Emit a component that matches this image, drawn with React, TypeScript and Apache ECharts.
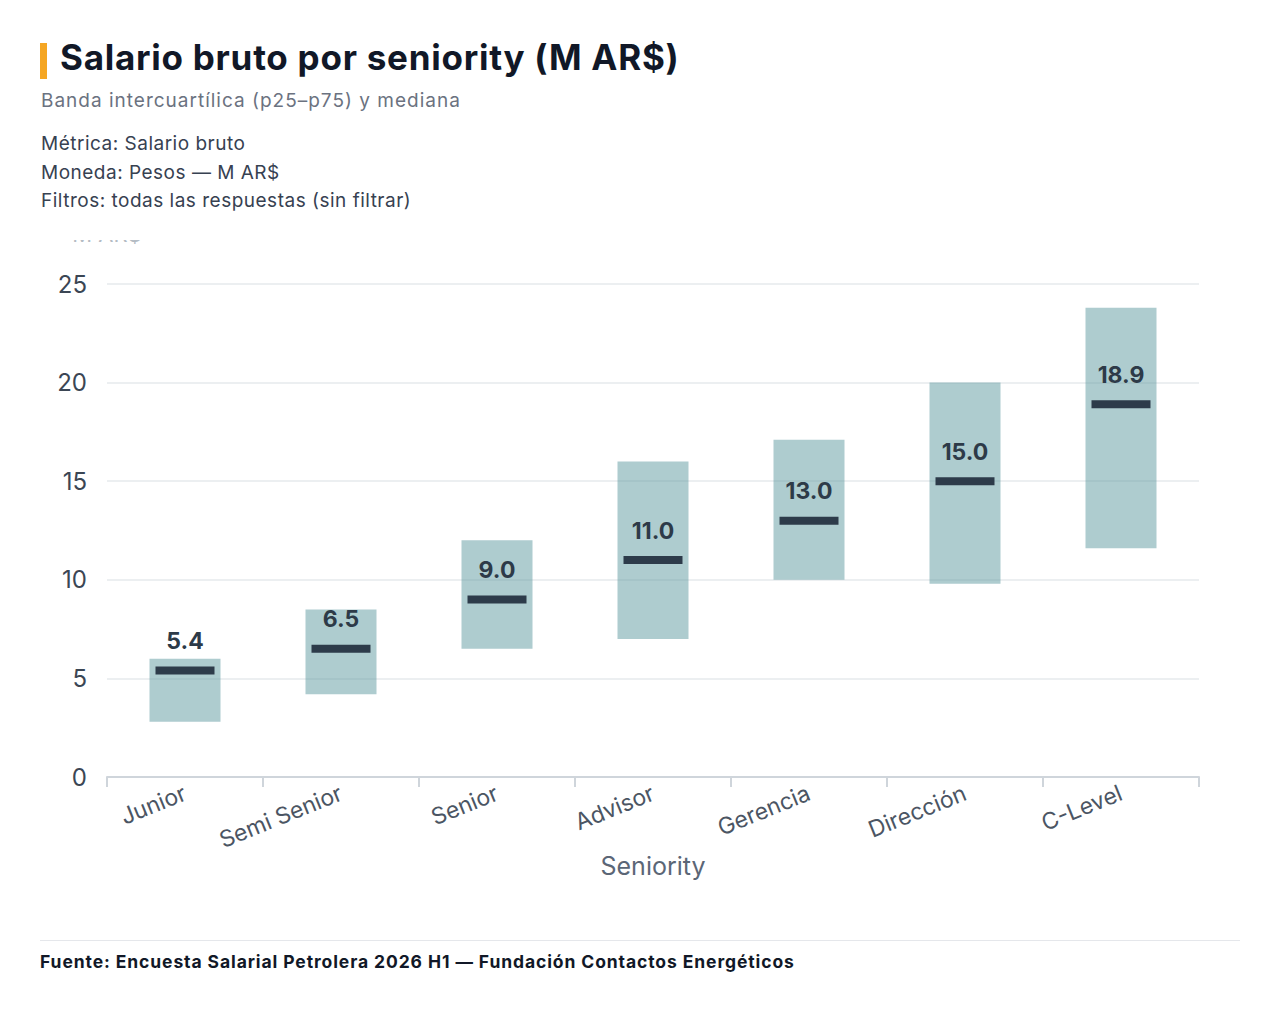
import React, { useEffect, useRef } from "react";
import * as echarts from "echarts";

const categories = ["Junior", "Semi Senior", "Senior", "Advisor", "Gerencia", "Dirección", "C-Level"];
const p25 = [2.8, 4.2, 6.5, 7.0, 10.0, 9.8, 11.6];
const p75 = [6.0, 8.5, 12.0, 16.0, 17.1, 20.0, 23.8];
const median = [5.4, 6.5, 9.0, 11.0, 13.0, 15.0, 18.9];
const yTicks = { min: 0, max: 25, interval: 5 };

const FONT = "Inter, 'DejaVu Sans', sans-serif";

export default function App() {
  const ref = useRef<HTMLDivElement>(null);
  useEffect(() => {
    if (!ref.current) return;
    const chart = echarts.init(ref.current, null, { renderer: "svg" });
    const band = p75.map((v, i) => +(v - p25[i]).toFixed(2));
    chart.setOption({
      animation: false,
      textStyle: { fontFamily: FONT },
      grid: { left: 107, right: 81, top: 44, bottom: 143, containLabel: false, outerBoundsMode: "none" },
      xAxis: {
        type: "category",
        data: categories,
        boundaryGap: true,
        name: "Seniority",
        nameLocation: "middle",
        nameGap: 76,
        nameMoveOverlap: false,
        nameTextStyle: { fontSize: 25, color: "#5b6676", fontFamily: FONT },
        axisLine: { lineStyle: { color: "#cfd5db", width: 2 } },
        axisTick: { show: true, length: 10, lineStyle: { color: "#cfd5db", width: 2 } },
        axisLabel: { rotate: 22, fontSize: 23, color: "#4b5563", margin: 15, interval: 0, fontFamily: FONT },
      },
      yAxis: {
        type: "value",
        min: yTicks.min,
        max: yTicks.max,
        interval: yTicks.interval,
        name: "M AR$",
        nameLocation: "end",
        nameGap: 39,
        nameMoveOverlap: false,
        nameTextStyle: { fontSize: 22, color: "#b4bcc4", fontFamily: FONT },
        axisLine: { show: false },
        axisTick: { show: false },
        axisLabel: { fontSize: 24, color: "#3b4654", margin: 20, fontFamily: FONT },
        splitLine: { lineStyle: { color: "#eceff1", width: 2 } },
      },
      series: [
        {
          type: "bar",
          stack: "iqr",
          data: p25,
          barWidth: 71,
          itemStyle: { color: "transparent" },
          silent: true,
          z: 1,
        },
        {
          type: "bar",
          stack: "iqr",
          data: band,
          barWidth: 71,
          itemStyle: { color: "#5e99a0", opacity: 0.5 },
          z: 3,
        },
        {
          type: "scatter",
          data: median,
          symbol: "rect",
          symbolSize: [59, 8],
          itemStyle: { color: "#2d3b4a", opacity: 1 },
          z: 5,
          label: {
            show: true,
            position: "top",
            distance: 14,
            formatter: (p: any) => Number(p.value).toFixed(1),
            fontSize: 23,
            fontWeight: "bold",
            color: "#2d3a48",
            fontFamily: FONT,
          },
        },
      ],
    });
    return () => chart.dispose();
  }, []);

  return (
    <div style={{ position: "absolute", left: 0, top: 0, width: 1280, height: 1029, background: "#fff", fontFamily: FONT, overflow: "hidden" }}>
      <div style={{ position: "absolute", left: 40, top: 43, width: 7, height: 36, background: "#f5a623" }} />
      <div style={{ position: "absolute", left: 60, top: 36, fontSize: 35, fontWeight: 700, color: "#111827", lineHeight: "42px", letterSpacing: "0.75px", whiteSpace: "nowrap" }}>
        Salario bruto por seniority (M AR$)
      </div>
      <div style={{ position: "absolute", left: 41, top: 89, fontSize: 19, color: "#6b7280", lineHeight: "24px", letterSpacing: "1px", whiteSpace: "nowrap" }}>
        Banda intercuartílica (p25–p75) y mediana
      </div>
      <div style={{ position: "absolute", left: 41, top: 130, fontSize: 19, color: "#374151", lineHeight: "28.5px", letterSpacing: "0.5px", whiteSpace: "nowrap" }}>
        <div>Métrica: Salario bruto</div>
        <div>Moneda: Pesos — M AR$</div>
        <div>Filtros: todas las respuestas (sin filtrar)</div>
      </div>
      <div ref={ref} style={{ position: "absolute", left: 0, top: 240, width: 1280, height: 680 }} />
      <div style={{ position: "absolute", left: 40, top: 940, width: 1200, height: 1, background: "#e5e7eb" }} />
      <div style={{ position: "absolute", left: 40, top: 951, fontSize: 17.5, fontWeight: 700, color: "#111827", lineHeight: "22px", letterSpacing: "0.9px", whiteSpace: "nowrap" }}>
        Fuente: Encuesta Salarial Petrolera 2026 H1 — Fundación Contactos Energéticos
      </div>
    </div>
  );
}
